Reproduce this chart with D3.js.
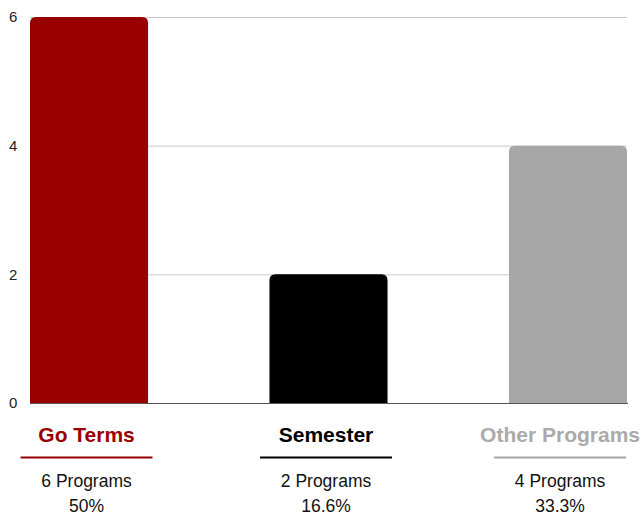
<!DOCTYPE html>
<html>
<head>
<meta charset="utf-8">
<script src="https://cdn.jsdelivr.net/npm/d3@7"></script>
<style>
  body { margin: 0; background: #fff; }
  svg { display: block; font-family: "Liberation Sans", Arial, Helvetica, sans-serif; }
</style>
</head>
<body>
<div class="bar-chart"></div>
<script>
// chart data
const categories = ['Go Terms', 'Semester', 'Other Programs'];
const programCounts = [6, 2, 4];
const percentLabels = ['50%', '16.6%', '33.3%'];
const yTicks = [0, 2, 4, 6];
const colors = ['#990000', '#000000', '#a6a6a6'];
const labelColors = ['#990000', '#000000', '#aaaaaa'];

const width = 641, height = 515;
const margin = { top: 17, right: 14, bottom: 112, left: 30 };

const svg = d3.select('.bar-chart')
  .append('svg')
  .attr('width', width)
  .attr('height', height);

const x = d3.scaleBand()
  .domain(categories)
  .range([margin.left, width - margin.right])
  .paddingInner(0.507)
  .paddingOuter(0);

const y = d3.scaleLinear()
  .domain([0, 6])
  .range([height - margin.bottom, margin.top]);

// gridlines
svg.selectAll('.grid')
  .data(yTicks.filter(d => d > 0))
  .enter()
  .append('line')
  .attr('x1', margin.left)
  .attr('x2', width - margin.right)
  .attr('y1', d => y(d) + 0.5)
  .attr('y2', d => y(d) + 0.5)
  .attr('stroke', '#c8c8c8')
  .attr('stroke-width', 1);

// y tick labels
svg.selectAll('.ytick')
  .data(yTicks)
  .enter()
  .append('text')
  .attr('x', 9)
  .attr('y', d => y(d))
  .attr('dy', '0.35em')
  .attr('font-size', 15)
  .attr('fill', '#222')
  .text(d => d);

// bars with rounded tops
const r = 6;
svg.selectAll('.bar')
  .data(categories)
  .enter()
  .append('path')
  .attr('fill', (d, i) => colors[i])
  .attr('d', (d, i) => {
    const x0 = x(d), w = x.bandwidth();
    const y0 = y(programCounts[i]), y1 = y(0);
    return `M${x0},${y1} V${y0 + r} Q${x0},${y0} ${x0 + r},${y0} H${x0 + w - r} Q${x0 + w},${y0} ${x0 + w},${y0 + r} V${y1} Z`;
  });

// baseline
svg.append('line')
  .attr('x1', margin.left)
  .attr('x2', width - margin.right + 1)
  .attr('y1', y(0) + 0.5)
  .attr('y2', y(0) + 0.5)
  .attr('stroke', '#555')
  .attr('stroke-width', 1);

// labels under the bars
const labels = svg.selectAll('.label')
  .data(categories)
  .enter()
  .append('g');

labels.append('text')
  .attr('class', 'cat')
  .attr('y', 442)
  .attr('text-anchor', 'middle')
  .attr('font-size', 21)
  .attr('font-weight', 'bold')
  .attr('fill', (d, i) => labelColors[i])
  .text(d => d);

// keep wide labels inside the window
labels.each(function (d) {
  const tw = d3.select(this).select('text').node().getComputedTextLength();
  const cx = Math.min(x(d) + x.bandwidth() / 2 - 2.5, width - tw / 2 - 1);
  d3.select(this).attr('transform', `translate(${cx},0)`);
});

labels.append('line')
  .attr('x1', -66)
  .attr('x2', 66)
  .attr('y1', 457.5)
  .attr('y2', 457.5)
  .attr('stroke', (d, i) => colors[i])
  .attr('stroke-width', 2);

labels.append('text')
  .attr('y', 487)
  .attr('text-anchor', 'middle')
  .attr('font-size', 17.5)
  .attr('fill', '#111')
  .text((d, i) => `${programCounts[i]} Programs`);

labels.append('text')
  .attr('y', 511.5)
  .attr('text-anchor', 'middle')
  .attr('font-size', 17.5)
  .attr('fill', '#111')
  .text((d, i) => percentLabels[i]);
</script>
</body>
</html>
